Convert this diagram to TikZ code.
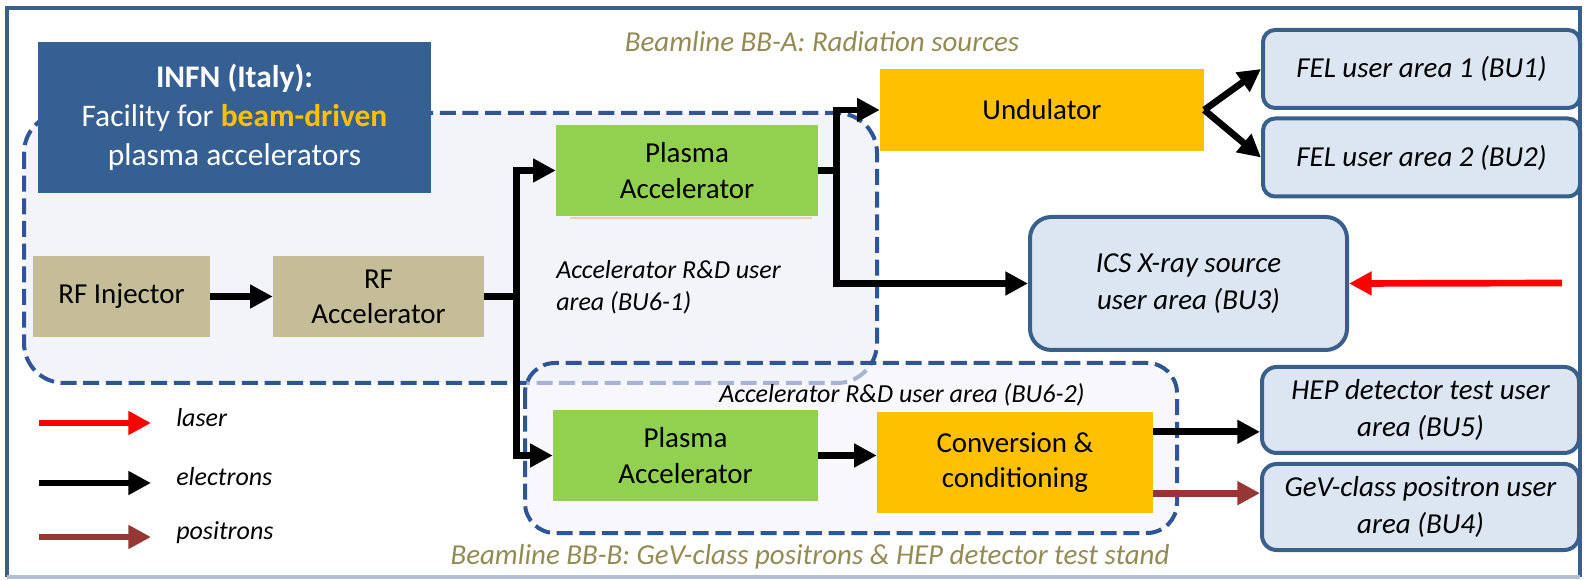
\documentclass[tikz,border=0pt]{standalone}
\usepackage{fontspec}
\setmainfont{Carlito}
\usetikzlibrary{arrows.meta}

\definecolor{frameblue}{HTML}{3A5F8B}
\definecolor{infnblue}{HTML}{376092}
\definecolor{arealine}{HTML}{2F5597}
\definecolor{areafill}{HTML}{F3F4FA}
\definecolor{rftan}{HTML}{C4BD97}
\definecolor{plgreen}{HTML}{92D050}
\definecolor{undorange}{HTML}{FFC000}
\definecolor{userfill}{HTML}{DCE6F2}
\definecolor{posred}{HTML}{953735}
\definecolor{olive}{HTML}{948A54}
\definecolor{shadoworange}{HTML}{F8CBAD}

\begin{document}
\begin{tikzpicture}[x=0.75pt, y=-0.75pt, >={Triangle[length=17pt,width=17pt]}]

    % Define the styles for the nodes
    \tikzstyle{block} = [rectangle, text centered, align=center, inner sep=0pt, font=\fontsize{21.7}{26.5}\selectfont]
    \tikzstyle{rfbox} = [block, fill=rftan, minimum height=60.75pt]
    \tikzstyle{plasma} = [block, fill=plgreen, minimum height=68.25pt]
    \tikzstyle{radiator} = [block, fill=undorange]
    \tikzstyle{user} = [rectangle, rounded corners=9pt, draw=frameblue, line width=3pt, fill=userfill, text centered, align=center, inner sep=0pt, minimum width=237.75pt, font=\fontsize{21.7}{27.5}\selectfont\itshape]
    \tikzstyle{area} = [draw=arealine, line width=3pt, dash pattern=on 12pt off 5pt, fill=areafill]
    \tikzstyle{lbl} = [font=\fontsize{19.5}{24}\selectfont\itshape, inner sep=0pt]
    \tikzstyle{beamline} = [font=\fontsize{21.7}{26}\selectfont\itshape, text=olive, inner sep=0pt]
    \tikzstyle{elec} = [->, line width=5pt]
    \tikzstyle{laser} = [->, line width=5pt, red]
    \tikzstyle{positron} = [->, line width=5pt, posred]

    \useasboundingbox (0,0) rectangle (1584,580);

    % Frame
    \draw[frameblue, line width=3pt] (7,577) -- (7,8) -- (1580,8) -- (1580,577);
    \draw[frameblue!40, line width=3pt] (7,577) -- (1580,577);

    % User areas BU6
    \draw[area, rounded corners=30pt] (24,113) rectangle (877,383);
    \draw[area, rounded corners=22.5pt, fill opacity=0.6] (525,363) rectangle (1177,533);

    % Nodes
    \node (infn) [block, fill=infnblue, text=white, minimum width=294.75pt, minimum height=113.25pt, font=\fontsize{23.6}{29}\selectfont] at (234.5,117.5)
        {\textbf{INFN (Italy):}\\Facility for \textbf{\color{undorange}beam-driven}\\plasma accelerators};
    \node (inj) [rfbox, minimum width=132.75pt] at (121.5,296.5) {RF Injector};
    \node (rfacc) [rfbox, minimum width=158.25pt] at (378.5,296.5) {RF\\Accelerator};
    \node (pa1) [plasma, minimum width=196.5pt] at (687,170.5) {Plasma\\Accelerator};
    \node (pa2) [plasma, minimum width=198.75pt] at (685.5,455.5) {Plasma\\Accelerator};
    \node (und) [radiator, minimum width=243pt, minimum height=61.5pt] at (1042,110) {Undulator};
    \node (conv) [radiator, minimum width=207pt, minimum height=75.75pt] at (1015,462.5) {Conversion \&\\conditioning};
    \draw[shadoworange, line width=1.5pt] ([xshift=11pt, yshift=-1pt]pa1.south west) -- ([xshift=-5pt, yshift=-1pt]pa1.south east);

    \node (fel1) [user, minimum height=58.5pt] at (1421.5,69) {FEL user area 1 (BU1)};
    \node (fel2) [user, minimum height=58.5pt] at (1421.5,157.5) {FEL user area 2 (BU2)};
    \node (ics) [user, rounded corners=16pt, minimum height=99.75pt] at (1188.5,283.5) {ICS X-ray source\\user area (BU3)};
    \node (hep) [user, rounded corners=11pt, minimum height=64.5pt] at (1420.5,410) {HEP detector test user\\area (BU5)};
    \node (gev) [user, rounded corners=11pt, minimum height=64.5pt] at (1420.5,507) {GeV-class positron user\\area (BU4)};

    % Labels
    \node (bba) [beamline] at (822,42) {Beamline BB-A: Radiation sources};
    \node (bbb) [beamline] at (810,557) {Beamline BB-B: GeV-class positrons \& HEP detector test stand};
    \node (bu61) [lbl, align=left, anchor=west] at (556,287) {Accelerator R\&D user\\area (BU6-1)};
    \node (bu62) [lbl] at (902,395) {Accelerator R\&D user area (BU6-2)};

    % Arrows
    \draw[elec] (inj) -- (rfacc);
    \draw[line width=5pt] (rfacc.east) -- ++(32,0) coordinate (split);
    \draw[elec] (split) |- (pa1.west);
    \draw[elec] (split) |- (pa2.west);
    \draw[line width=5pt] (pa1.east) -- ++(18,0) coordinate (fork);
    \draw[elec] (fork) |- (und.west);
    \draw[elec] (fork) |- (ics.west);
    \draw[elec] (und.east) -- (fel1.west);
    \draw[elec] (und.east) -- (fel2.west);
    \draw[elec] (pa2.east) -- (pa2.east -| conv.west);
    \draw[elec] ([yshift=23pt]conv.east) -- ([yshift=23pt]conv.east -| hep.west);
    \draw[positron] ([yshift=-23pt]conv.east) -- ([yshift=-23pt]conv.east -| gev.west);
    \coordinate (laserin) at (1562,283);
    \draw[laser] (laserin) -- (ics.east);

    % Legend
    \node (lglaser) [lbl, anchor=west] at (176,418) {laser};
    \node (lgelec) [lbl, anchor=west] at (176,477) {electrons};
    \node (lgpos) [lbl, anchor=west] at (176,533) {positrons};
    \coordinate (lg1) at (39,423);
    \coordinate (lg2) at (39,483);
    \coordinate (lg3) at (39,537);
    \draw[laser] (lg1) -- ++(112,0);
    \draw[elec] (lg2) -- ++(112,0);
    \draw[positron] (lg3) -- ++(112,0);

\end{tikzpicture}
\end{document}
